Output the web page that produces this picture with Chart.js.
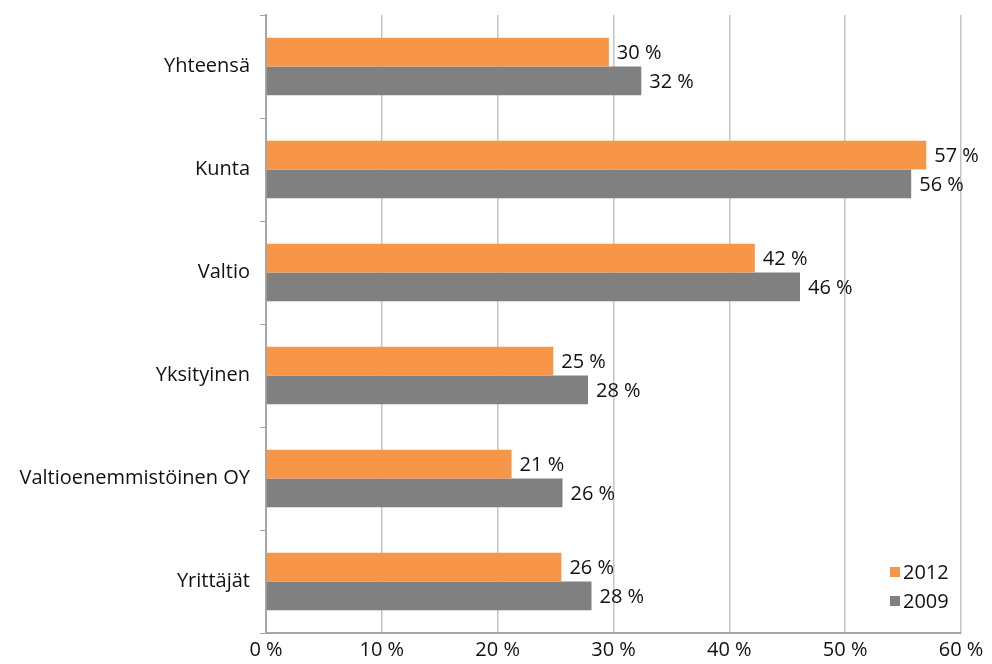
<!DOCTYPE html>
<html>
<head>
<meta charset="utf-8">
<script src="https://cdn.jsdelivr.net/npm/chart.js@4/dist/chart.umd.min.js"></script>
<style>
  html, body { margin: 0; padding: 0; background: #fff; }
  #wrap { width: 992px; height: 664px; }
</style>
</head>
<body>
<div id="wrap"><canvas id="myChart" width="992" height="664"></canvas></div>
<script>
// Data
const categories = ['Yhteensä', 'Kunta', 'Valtio', 'Yksityinen', 'Valtioenemmistöinen OY', 'Yrittäjät'];
const values2012 = [29.6, 57.0, 42.2, 24.8, 21.2, 25.5];
const values2009 = [32.4, 55.7, 46.1, 27.8, 25.6, 28.1];
const xTicks = [0, 10, 20, 30, 40, 50, 60];

const fontName = "'Open Sans', 'DejaVu Sans', sans-serif";
const orange = '#f79646';
const gray = '#808080';
const textColor = '#111';

// Value labels at bar ends
const valueLabels = {
  id: 'valueLabels',
  afterDatasetsDraw(chart) {
    const ctx = chart.ctx;
    ctx.save();
    ctx.font = '20px ' + fontName;
    ctx.fillStyle = textColor;
    ctx.textBaseline = 'middle';
    ctx.textAlign = 'left';
    chart.data.datasets.forEach((ds, i) => {
      chart.getDatasetMeta(i).data.forEach((bar, j) => {
        ctx.fillText(Math.round(ds.data[j]) + ' %', bar.x + 8, bar.y + 1);
      });
    });
    ctx.restore();
  }
};

// Legend inside plot, bottom right
const innerLegend = {
  id: 'innerLegend',
  afterDraw(chart) {
    const ctx = chart.ctx;
    const area = chart.chartArea;
    ctx.save();
    ctx.font = '20px ' + fontName;
    ctx.textBaseline = 'middle';
    chart.data.datasets.forEach((ds, i) => {
      const y = area.bottom - 61 + i * 29;
      const x = area.right - 71;
      ctx.fillStyle = ds.backgroundColor;
      ctx.fillRect(x, y - 5, 10, 10);
      ctx.fillStyle = textColor;
      ctx.fillText(ds.label, x + 13, y + 1);
    });
    ctx.restore();
  }
};

new Chart(document.getElementById('myChart').getContext('2d'), {
  type: 'bar',
  data: {
    labels: categories,
    datasets: [
      { label: '2012', data: values2012, backgroundColor: orange, categoryPercentage: 0.56, barPercentage: 1.0 },
      { label: '2009', data: values2009, backgroundColor: gray, categoryPercentage: 0.56, barPercentage: 1.0 }
    ]
  },
  options: {
    indexAxis: 'y',
    responsive: false,
    animation: false,
    layout: { padding: { top: 15, right: 31, left: 0, bottom: 0 } },
    plugins: { legend: { display: false }, tooltip: { enabled: false } },
    scales: {
      x: {
        min: 0,
        max: 60,
        afterBuildTicks(scale) { scale.ticks = xTicks.map(v => ({ value: v })); },
        afterFit(scale) { scale.height = 31; },
        grid: { color: '#c4c4c4', lineWidth: 1.5, drawTicks: false },
        border: { color: '#a6a6a6', width: 2 },
        ticks: {
          color: textColor,
          padding: 5,
          font: { family: fontName, size: 20 },
          callback: v => v + ' %'
        }
      },
      y: {
        afterFit(scale) {
          scale.width = 266;
          scale.paddingTop = 0;
          scale.paddingBottom = 0;
        },
        grid: { offset: true, drawOnChartArea: false, tickLength: 6, color: '#a6a6a6' },
        border: { color: '#a6a6a6', width: 2 },
        ticks: {
          color: textColor,
          padding: 10,
          font: { family: fontName, size: 20 }
        }
      }
    }
  },
  plugins: [valueLabels, innerLegend]
});
</script>
</body>
</html>
